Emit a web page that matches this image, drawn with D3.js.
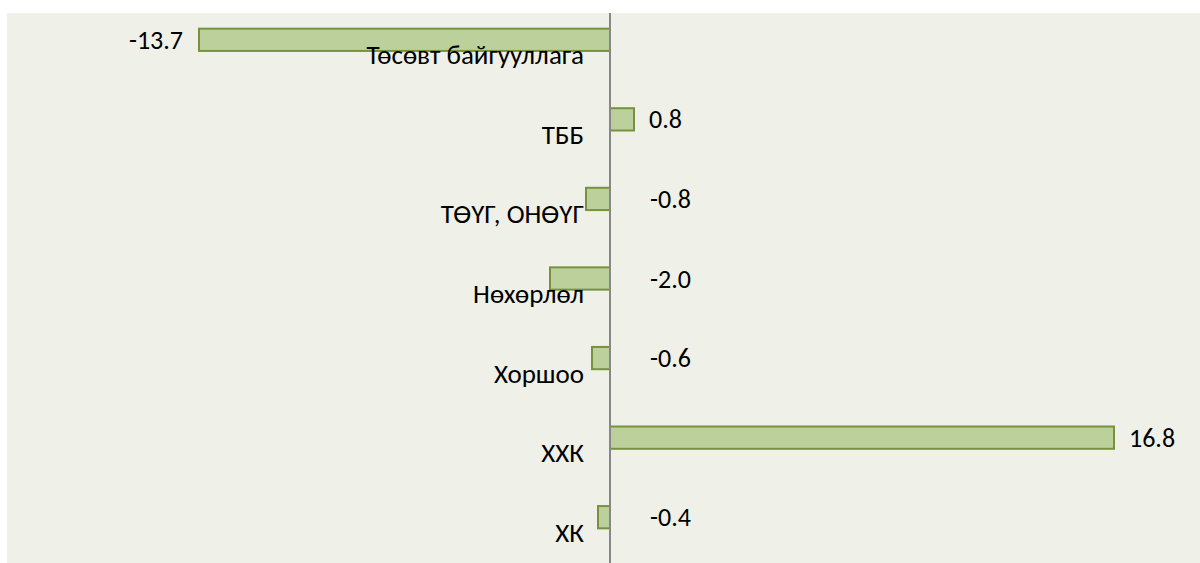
<!DOCTYPE html>
<html>
<head>
<meta charset="utf-8">
<script src="https://cdn.jsdelivr.net/npm/d3@7"></script>
<style>
  body { margin: 0; background: #ffffff; }
  svg text { font-family: "Carlito", "DejaVu Sans Condensed", "Noto Sans", sans-serif; fill: #000; }
</style>
</head>
<body>
<svg id="chart" width="1200" height="563"></svg>
<script>
// ангилал ба утгууд
const categories = ["Төсөвт байгууллага", "ТББ", "ТӨҮГ, ОНӨҮГ", "Нөхөрлөл", "Хоршоо", "ХХК", "ХК"];
const values = [-13.7, 0.8, -0.8, -2.0, -0.6, 16.8, -0.4];
const xDomain = [-20, 20];

const width = 1200, height = 563;
const svg = d3.select("#chart");

// дэвсгэр
svg.append("rect")
    .attr("x", 7).attr("y", 13)
    .attr("width", width - 7).attr("height", height - 13)
    .attr("fill", "#eff1e9");

const x = d3.scaleLinear().domain(xDomain).range([10, 1210]);
const y = d3.scaleBand().domain(categories).range([0, 557])
    .paddingInner(0.72).paddingOuter(0.36);

const data = categories.map((c, i) => ({ name: c, value: values[i] }));

// баганууд
svg.selectAll(".bar")
    .data(data)
    .enter().append("rect")
    .attr("class", "bar")
    .attr("x", d => x(Math.min(0, d.value)))
    .attr("y", d => y(d.name))
    .attr("width", d => Math.abs(x(d.value) - x(0)))
    .attr("height", y.bandwidth())
    .attr("fill", "#bcd09b")
    .attr("stroke", "#76923c")
    .attr("stroke-width", 2);

// тэнхлэг
svg.append("line")
    .attr("x1", x(0)).attr("x2", x(0))
    .attr("y1", 13).attr("y2", height)
    .attr("stroke", "#878787")
    .attr("stroke-width", 2);

// ангиллын нэрс
svg.selectAll(".cat")
    .data(data)
    .enter().append("text")
    .attr("class", "cat")
    .attr("x", x(0) - 26)
    .attr("y", d => y(d.name) + y.bandwidth() / 2 + 15)
    .attr("text-anchor", "end")
    .attr("dominant-baseline", "central")
    .style("font-size", "27px")
    .text(d => d.name);

// утгын шошго
svg.selectAll(".val")
    .data(data)
    .enter().append("text")
    .attr("class", "val")
    .attr("x", d => {
      if (d.value >= 0) return x(d.value) + 15;
      if (x(0) - x(d.value) > 100) return x(d.value) - 16;
      return x(0) + 40;
    })
    .attr("y", d => y(d.name) + y.bandwidth() / 2)
    .attr("text-anchor", d => (d.value < 0 && x(0) - x(d.value) > 100) ? "end" : "start")
    .attr("dominant-baseline", "central")
    .style("font-size", "26px")
    .text(d => d.value.toFixed(1));
</script>
</body>
</html>
